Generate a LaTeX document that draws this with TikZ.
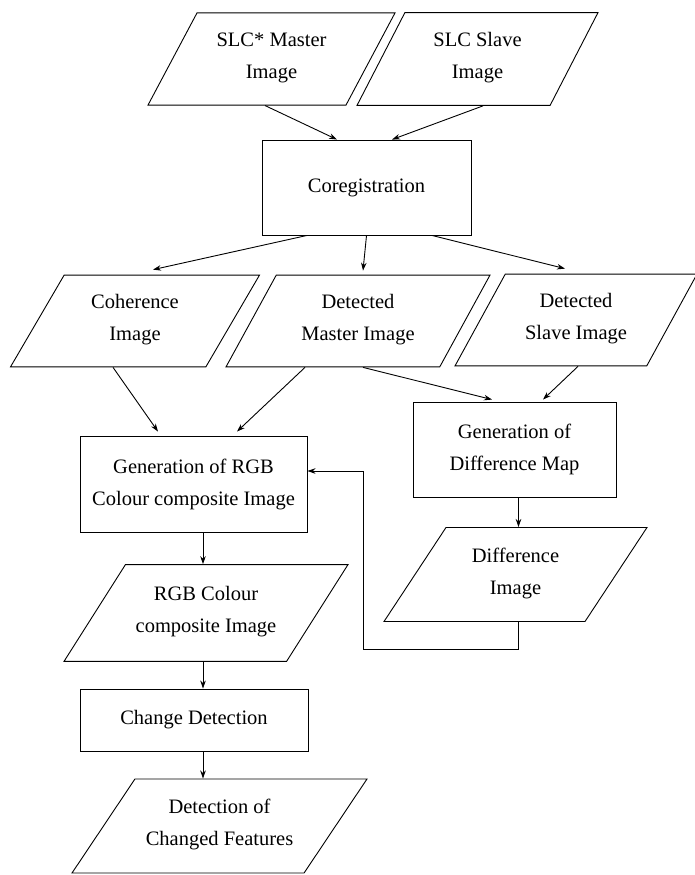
\documentclass[tikz,border=0pt]{standalone}
\usepackage{fontspec}
\setmainfont{Liberation Serif}
\usetikzlibrary{arrows.meta,shapes}

\tikzset{
procbox/.style={draw, rectangle, align=center, inner sep=2pt},
iobox/.style={draw, trapezium, trapezium stretches body, align=center, inner xsep=2pt,
  execute at begin node=\rule{0pt}{25.4pt}, execute at end node=\rule[-6.6pt]{0pt}{6.6pt}},
flow/.style={-{Stealth[length=8pt,width=5.5pt]}}
}

\begin{document}
\begin{tikzpicture}[x=1pt,y=-1pt,line width=0.9pt,font=\fontsize{20.5}{32}\selectfont]
\useasboundingbox (0,0) rectangle (695,875);
% input images
\node[iobox,trapezium left angle=62,trapezium right angle=118,minimum width=247,inner ysep=20] (SLCM) at (271.5,59) {SLC* Master\\Image};
\node[iobox,trapezium left angle=62.7,trapezium right angle=117.3,minimum width=241,inner ysep=20] (SLCS) at (477.5,59) {SLC Slave\\Image};
\node[procbox,minimum width=209,minimum height=95] (Coreg) at (366.5,187.5) {Coregistration};
% products
\node[iobox,trapezium left angle=59.7,trapezium right angle=120.3,minimum width=249,inner ysep=19.5] (Coh) at (135,321) {Coherence\\Image};
\node[iobox,trapezium left angle=61.3,trapezium right angle=118.7,minimum width=264,inner ysep=19.5] (DetM) at (358,321) {Detected\\Master Image};
\node[iobox,trapezium left angle=61.3,trapezium right angle=118.7,minimum width=242,inner ysep=19.5] (DetS) at (576,320) {Detected\\Slave Image};
\node[procbox,minimum width=227,minimum height=96] (GenRGB) at (193.5,484) {Generation of RGB\\Colour composite Image};
\node[procbox,minimum width=203,minimum height=95] (GenDiff) at (514.5,449.5) {Generation of\\Difference Map};
\node[iobox,trapezium left angle=56.6,trapezium right angle=123.4,minimum width=263,inner ysep=20.5] (DiffImg) at (515.5,574.5) {Difference\\Image};
\node[iobox,trapezium left angle=57.6,trapezium right angle=122.4,minimum width=284,inner ysep=22] (RGBImg) at (206,613) {RGB Colour\\composite Image};
\node[procbox,minimum width=228,minimum height=62] (Change) at (194,720) {Change Detection};
\node[iobox,trapezium left angle=56.2,trapezium right angle=123.8,minimum width=295,inner ysep=20.5] (Final) at (219.5,826) {Detection of\\Changed Features};
\coordinate (Loop) at (363,649);

\draw[flow] ([xshift=-6.5pt]SLCM.south) -- ([xshift=-29.5pt]Coreg.north);
\draw[flow] ([xshift=5.5pt]SLCS.south) -- ([xshift=25.5pt]Coreg.north);
\draw[flow] ([xshift=-59.5pt]Coreg.south) -- ([xshift=18pt,yshift=5pt]Coh.north);
\draw[flow] (Coreg.south) -- ([xshift=5pt,yshift=4pt]DetM.north);
\draw[flow] ([xshift=65.5pt]Coreg.south) -- ([xshift=-11pt,yshift=5pt]DetS.north);
\draw[flow] ([xshift=-22pt]Coh.south) -- ([xshift=-35.5pt,yshift=4pt]GenRGB.north);
\draw[flow] ([xshift=-53pt]DetM.south) -- ([xshift=43.5pt,yshift=4pt]GenRGB.north);
\draw[flow] ([xshift=5pt]DetM.south) -- ([xshift=-22.5pt,yshift=2pt]GenDiff.north);
\draw[flow] ([xshift=2pt]DetS.south) -- ([xshift=28.5pt,yshift=2pt]GenDiff.north);
\draw[flow] ([xshift=4pt]GenDiff.south) -- ([xshift=4pt]GenDiff.south |- DiffImg.north);
\draw[flow] ([xshift=3pt]DiffImg.south) |- (Loop) |- ([yshift=13pt]GenRGB.east);
\draw[flow] ([xshift=9.5pt]GenRGB.south) -- ([xshift=9.5pt]GenRGB.south |- RGBImg.north);
\draw[flow] ([xshift=-3pt]RGBImg.south) -- ([xshift=-3pt]RGBImg.south |- Change.north);
\draw[flow] ([xshift=9pt]Change.south) -- ([xshift=9pt]Change.south |- Final.north);
\end{tikzpicture}
\end{document}
